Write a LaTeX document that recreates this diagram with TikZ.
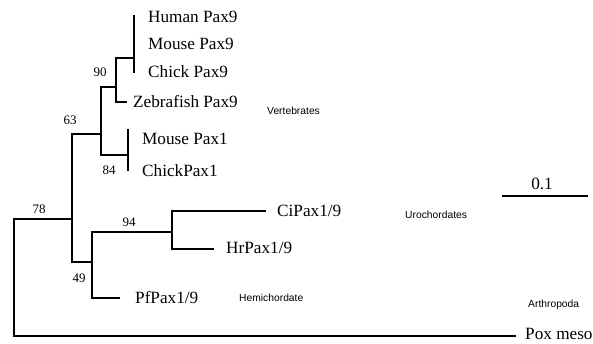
\documentclass[tikz,border=0pt]{standalone}
\usepackage{fontspec}
\setmainfont{Liberation Serif}
\newfontfamily\labsans{Liberation Sans}
\begin{document}
\begin{tikzpicture}[x=1pt,y=-1pt,
  br/.style={line width=1.1pt, line cap=rect},
  taxon/.style={anchor=west, inner sep=0pt, font=\fontsize{17.2}{19}\selectfont},
  boot/.style={inner sep=0pt, font=\fontsize{13}{15}\selectfont},
  grp/.style={anchor=west, inner sep=0pt, font=\labsans\fontsize{10.3}{12}\selectfont}]
\useasboundingbox (0,0) rectangle (593,344);
% internal coordinates
\coordinate (r78t) at (14,219);
\coordinate (r78b) at (14,336);
\coordinate (n63m) at (72,219);
\coordinate (n63t) at (72,134);
\coordinate (n63b) at (72,262);
\coordinate (na) at (101,134);
\coordinate (nat) at (101,87);
\coordinate (nab) at (101,155);
\coordinate (n90) at (116,87);
\coordinate (n90t) at (116,58);
\coordinate (n90b) at (116,102);
\coordinate (np9) at (134,58);
\coordinate (np9t) at (134,16);
\coordinate (np9b) at (134,72);
\coordinate (zeb) at (126,102);
\coordinate (n84) at (128,155);
\coordinate (n84t) at (128,130);
\coordinate (n84b) at (128,170);
\coordinate (n49) at (92,262);
\coordinate (n49t) at (92,232);
\coordinate (n49b) at (92,298);
\coordinate (n94) at (172,232);
\coordinate (n94t) at (172,211);
\coordinate (n94b) at (172,249);
\coordinate (ci) at (265,211);
\coordinate (hr) at (213,249);
\coordinate (pf) at (119,298);
\coordinate (pox) at (515,336);
\coordinate (sbl) at (503,196);
\coordinate (sbr) at (587,196);
% branches
\draw[br] (r78t) -- (r78b) -- (pox);
\draw[br] (r78t) -- (n63m);
\draw[br] (n63t) -- (n63b);
\draw[br] (n63t) -- (na);
\draw[br] (nat) -- (nab);
\draw[br] (nat) -- (n90);
\draw[br] (n90t) -- (n90b);
\draw[br] (n90t) -- (np9);
\draw[br] (np9t) -- (np9b);
\draw[br] (n90b) -- (zeb);
\draw[br] (nab) -- (n84);
\draw[br] (n84t) -- (n84b);
\draw[br] (n63b) -- (n49);
\draw[br] (n49t) -- (n49b);
\draw[br] (n49t) -- (n94);
\draw[br] (n94t) -- (n94b);
\draw[br] (n94t) -- (ci);
\draw[br] (n94b) -- (hr);
\draw[br] (n49b) -- (pf);
\draw[br] (sbl) -- (sbr);
% taxa
\node[taxon] (hu9) at (148,17) {Human Pax9};
\node[taxon] (mo9) at (148,44) {Mouse Pax9};
\node[taxon] (ch9) at (148,72) {Chick Pax9};
\node[taxon] (ze9) at (133,102) {Zebrafish Pax9};
\node[taxon] (mo1) at (142,139) {Mouse Pax1};
\node[taxon] (ch1) at (142,171) {ChickPax1};
\node[taxon] (cit) at (277,211) {CiPax1/9};
\node[taxon] (hrt) at (226,248) {HrPax1/9};
\node[taxon] (pft) at (135,298) {PfPax1/9};
\node[taxon] (poxt) at (525,334) {Pox meso};
\node[taxon, anchor=center] (sbt) at (542,184) {0.1};
% bootstrap values
\node[boot] (b78) at (39,209) {78};
\node[boot] (b63) at (70,120) {63};
\node[boot] (b90) at (100,72) {90};
\node[boot] (b84) at (109,170) {84};
\node[boot] (b94) at (129,222) {94};
\node[boot] (b49) at (79,278) {49};
% groups
\node[grp] (gv) at (267,111) {Vertebrates};
\node[grp] (gu) at (405,215) {Urochordates};
\node[grp] (gh) at (239,298) {Hemichordate};
\node[grp] (ga) at (528,305) {Arthropoda};
\end{tikzpicture}
\end{document}
